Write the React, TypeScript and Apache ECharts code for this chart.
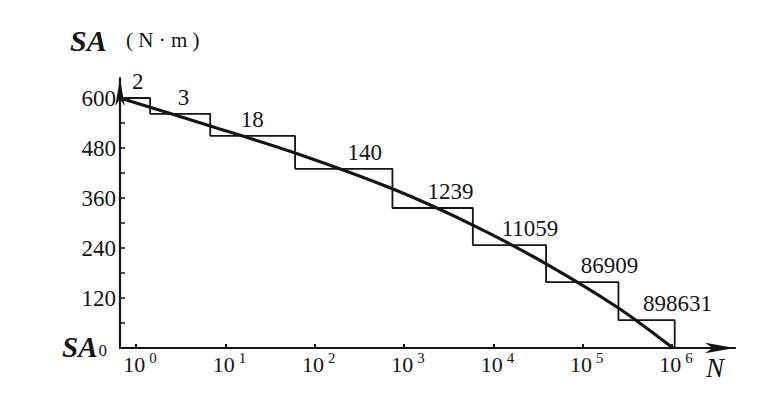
import React, { useEffect, useRef } from 'react';
import * as echarts from 'echarts';

// x axis is log10(N) in decades
const decadeTicks = [0, 1, 2, 3, 4, 5, 6];
const yLabelValues = [120, 240, 360, 480, 600];
const yTickValues = [0, 60, 120, 180, 240, 300, 360, 420, 480, 540, 600];

// staircase (load spectrum)
const stepStart = -0.18;
const stepEnds = [0.157, 0.83, 1.78, 2.87, 3.77, 4.59, 5.4, 6.03];
const stepLevels = [600, 562, 509, 430, 336, 247, 158, 67];
const cycleCounts = ['2', '3', '18', '140', '1239', '11059', '86909', '898631'];
const countLabelX = [0.02, 0.53, 1.3, 2.56, 3.52, 4.41, 5.3, 6.06];

// smooth curve
const curveLogN = [-0.18, 0.83, 1.78, 2.87, 3.77, 4.59, 5.4, 6.01];
const curveSA = [600, 533, 468, 382, 295, 202, 96, 0];

const FONT = 'Liberation Serif';
const INK = '#141414';

export default function App() {
  const ref = useRef<HTMLDivElement>(null);

  useEffect(() => {
    if (!ref.current) return;
    document.body.style.margin = '0';
    const chart = echarts.init(ref.current, undefined, { renderer: 'svg' });

    const stairs: number[][] = [[stepStart, stepLevels[0]]];
    stepEnds.forEach((e, i) => {
      stairs.push([e, stepLevels[i]]);
      const next = i + 1 < stepLevels.length ? stepLevels[i + 1] : 0;
      stairs.push([e, next]);
    });
    const curve = curveLogN.map((x, i) => [x, curveSA[i]]);
    const labels = cycleCounts.map((c, i) => [countLabelX[i], stepLevels[i], c]);

    chart.setOption({
      animation: false,
      backgroundColor: '#ffffff',
      textStyle: { fontFamily: FONT },
      grid: { left: 120, right: 44, top: 78, bottom: 55, containLabel: false },
      xAxis: {
        type: 'value',
        min: -0.18,
        max: 6.705,
        splitLine: { show: false },
        axisLine: {
          show: true,
          onZero: false,
          symbol: ['none', 'arrow'],
          symbolSize: [8, 30],
          lineStyle: { color: INK, width: 2.2 },
        },
        axisTick: {
          show: true,
          inside: true,
          length: 4,
          customValues: decadeTicks,
          lineStyle: { color: INK, width: 2 },
        },
        axisLabel: {
          customValues: decadeTicks,
          margin: 2,
          color: INK,
          fontFamily: FONT,
          formatter: (v: number) => `{b|10}{s|${Math.round(v)}}`,
          rich: {
            b: { fontSize: 22, fontFamily: FONT, color: INK, padding: [0, 0, 0, 8] },
            s: { fontSize: 15, fontFamily: FONT, color: INK, padding: [0, 0, 13, 4] },
          },
        },
      },
      yAxis: {
        type: 'value',
        min: 0,
        max: 648,
        splitLine: { show: false },
        axisLine: {
          show: true,
          onZero: false,
          symbol: ['none', 'arrow'],
          symbolSize: [7, 28],
          lineStyle: { color: INK, width: 2.2 },
        },
        axisTick: {
          show: true,
          inside: true,
          length: 5,
          customValues: yTickValues,
          lineStyle: { color: INK, width: 1.5 },
        },
        axisLabel: {
          customValues: yLabelValues,
          margin: 4,
          fontSize: 23,
          color: INK,
          fontFamily: FONT,
        },
      },
      series: [
        {
          type: 'line',
          data: stairs,
          symbol: 'none',
          lineStyle: { color: INK, width: 1.8 },
          z: 2,
        },
        {
          type: 'line',
          data: curve,
          symbol: 'none',
          smooth: 0.3,
          lineStyle: { color: INK, width: 3.2 },
          z: 3,
        },
        {
          type: 'scatter',
          data: labels,
          symbolSize: 0,
          itemStyle: { opacity: 1, color: INK },
          label: {
            show: true,
            position: 'top',
            distance: 5,
            fontSize: 23,
            fontFamily: FONT,
            fontWeight: 'normal',
            color: INK,
            opacity: 1,
            formatter: (p: any) => p.data[2],
          },
          z: 4,
        },
      ],
      graphic: [
        {
          type: 'text',
          left: 70,
          top: 25,
          style: {
            text: 'SA',
            font: `italic bold 30px ${FONT}`,
            fill: INK,
          },
        },
        {
          type: 'text',
          left: 126,
          top: 29,
          style: {
            text: '( N · m )',
            font: `21px ${FONT}`,
            fill: INK,
          },
        },
        {
          type: 'text',
          left: 62,
          top: 332,
          style: {
            text: '{a|SA}{b|0}',
            fill: INK,
            rich: {
              a: { font: `italic bold 29px ${FONT}`, fill: INK },
              b: { font: `17px ${FONT}`, fill: INK, padding: [8, 0, 0, 1] },
            },
          },
        },
        {
          type: 'text',
          left: 706,
          top: 354,
          style: {
            text: 'N',
            font: `italic 27px ${FONT}`,
            fill: INK,
          },
        },
      ],
    });

    return () => chart.dispose();
  }, []);

  return (
    <div
      ref={ref}
      style={{ position: 'fixed', left: 0, top: 0, width: 779, height: 403 }}
    />
  );
}
